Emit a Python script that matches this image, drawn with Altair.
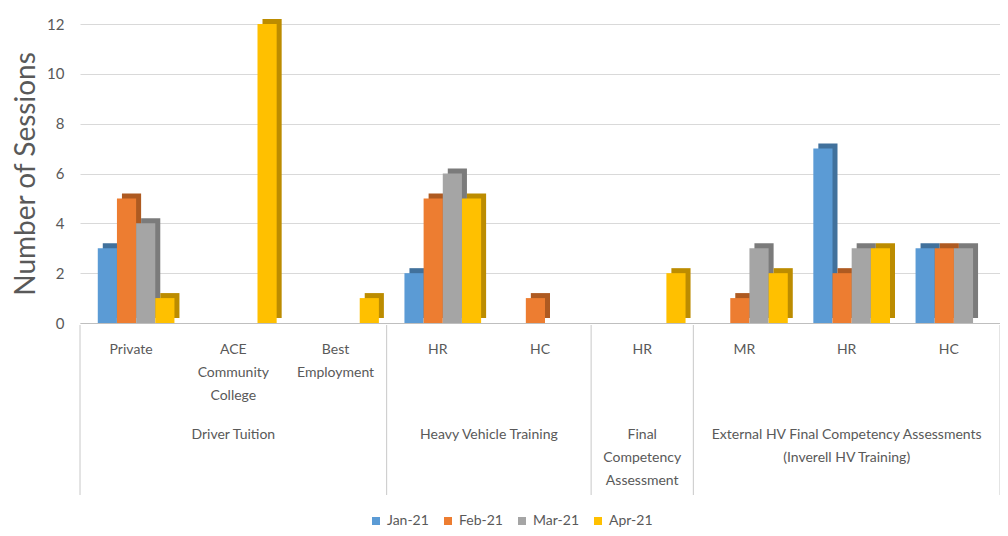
import altair as alt
import pandas as pd

# ---- data ----
groups = ["Driver Tuition", "Heavy Vehicle Training",
          "Final\nCompetency\nAssessment",
          "External HV Final Competency Assessments\n(Inverell HV Training)"]
subcats = ["Private", "ACE\nCommunity\nCollege", "Best\nEmployment",
           "HR", "HC", "HR", "MR", "HR", "HC"]
sub_group = [0, 0, 0, 1, 1, 2, 3, 3, 3]
series = ["Jan-21", "Feb-21", "Mar-21", "Apr-21"]
jan = [3, 0, 0, 2, 0, 0, 0, 7, 3]
feb = [5, 0, 0, 5, 1, 0, 1, 2, 3]
mar = [4, 0, 0, 6, 0, 0, 3, 3, 3]
apr = [1, 12, 1, 5, 0, 2, 2, 3, 0]
y_ticks = [0, 2, 4, 6, 8, 10, 12]

colors = ["#5B9BD5", "#ED7D31", "#A5A5A5", "#FFC000"]
dark = ["#41719C", "#AE5A21", "#7B7B7B", "#BC8C00"]

FONT = "Lato"
GREY = "#595959"
BAR_W = 0.1875  # fraction of a category slot per bar

# ---- tables ----
rows = []
for si, (s, vals) in enumerate(zip(series, [jan, feb, mar, apr])):
    for ci, v in enumerate(vals):
        rows.append({"ci": ci, "si": si, "series": s, "value": v})
bars = pd.DataFrame(rows)

subs = pd.DataFrame({"ci": list(range(len(subcats))), "label": subcats})

g_rows = []
for gi, g in enumerate(groups):
    idx = [i for i, sg in enumerate(sub_group) if sg == gi]
    g_rows.append({"label": g, "start": min(idx), "end": max(idx) + 1})
grp = pd.DataFrame(g_rows)
bounds = pd.DataFrame({"b": sorted(set(grp["start"]).union(set(grp["end"])))})

xs = alt.Scale(domain=[0, len(subcats)], nice=False, zero=False)
ys = alt.Scale(domain=[0, 12], nice=False)

base = alt.Chart(bars).transform_filter("datum.value > 0").transform_calculate(
    x0=f"datum.ci + 0.5 + (datum.si - 2) * {BAR_W}",
    x1=f"datum.ci + 0.5 + (datum.si - 1) * {BAR_W}",
)

shadow = base.mark_bar(xOffset=10, x2Offset=10, yOffset=-5, y2Offset=-5).encode(
    x=alt.X("x0:Q", scale=xs,
            axis=alt.Axis(labels=False, ticks=False, grid=False, domain=True,
                          domainColor="#bfbfbf", title=None)),
    x2="x1:Q",
    y=alt.Y("value:Q", scale=ys),
    y2=alt.datum(0),
    color=alt.Color("series:N", scale=alt.Scale(domain=series, range=dark), legend=None),
)

main = base.mark_bar(xOffset=5, x2Offset=5).encode(
    x=alt.X("x0:Q", scale=xs),
    x2="x1:Q",
    y=alt.Y("value:Q", scale=ys,
            axis=alt.Axis(values=y_ticks, title="Number of Sessions", grid=True,
                          gridColor="#d9d9d9", domain=False, ticks=False,
                          labelPadding=16, labelFont=FONT, labelFontSize=15,
                          labelColor=GREY, titleFont=FONT, titleFontSize=28,
                          titleFontWeight="normal", titleColor=GREY,
                          titlePadding=6)),
    y2=alt.datum(0),
    color=alt.Color("series:N", scale=alt.Scale(domain=series, range=colors),
                    sort=series,
                    legend=alt.Legend(title=None, orient="none", direction="horizontal",
                                      legendX=289, legendY=490, symbolType="square",
                                      symbolSize=64, labelFont=FONT, labelFontSize=14,
                                      labelColor=GREY, columnPadding=12,
                                      labelOffset=4)),
)

sub_text = alt.Chart(subs).transform_calculate(xc="datum.ci + 0.5").mark_text(
    font=FONT, fontSize=14, color=GREY, lineBreak="\n", lineHeight=23,
    baseline="middle", align="center"
).encode(x=alt.X("xc:Q", scale=xs), y=alt.value(326), text="label:N")

grp_text = alt.Chart(grp).transform_calculate(xc="(datum.start + datum.end) / 2").mark_text(
    font=FONT, fontSize=14, color=GREY, lineBreak="\n", lineHeight=23,
    baseline="middle", align="center"
).encode(x=alt.X("xc:Q", scale=xs), y=alt.value(411), text="label:N")

seps = alt.Chart(bounds).mark_rule(color="#c8c8c8", strokeWidth=1).encode(
    x=alt.X("b:Q", scale=xs), y=alt.value(301), y2=alt.value(471)
)

chart = alt.layer(shadow, main, sub_text, grp_text, seps).resolve_scale(
    color="independent"
).properties(
    width=920, height=299,
    padding={"left": 72, "top": 16, "right": 0, "bottom": 205},
    autosize=alt.AutoSizeParams(type="none"),
).configure_view(stroke=None)

chart.save("out.html", embed_options={"renderer": "svg", "actions": False})
